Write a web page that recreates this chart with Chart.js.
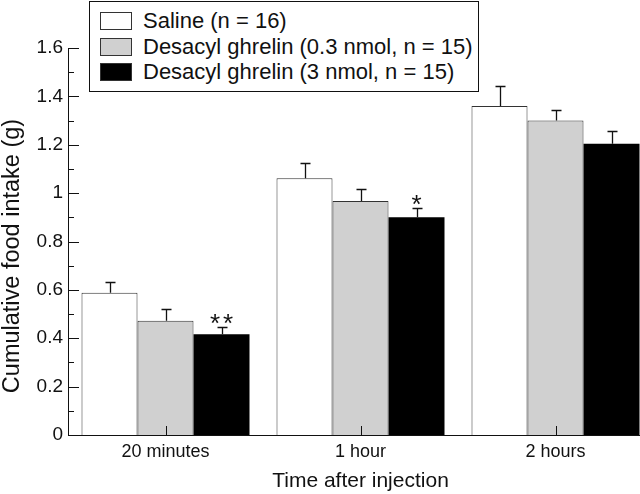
<!DOCTYPE html>
<html>
<head>
<meta charset="utf-8">
<script src="https://cdn.jsdelivr.net/npm/chart.js@4"></script>
<style>
  html, body { margin: 0; padding: 0; background: #fff; overflow: hidden; }
  #wrap { position: relative; width: 660px; height: 494px; }
  #legend {
    position: absolute; left: 89px; top: 1px; width: 388px; height: 89px;
    border: 1px solid #111; background: #fff;
    font-family: "Liberation Sans", Arial, sans-serif; font-size: 22px; color: #111;
  }
  .item { position: absolute; left: 10px; height: 20px; display: flex; align-items: center; }
  .swatch { width: 32px; height: 18px; border: 1px solid #333; margin-right: 11px; box-sizing: border-box; }
</style>
</head>
<body>
<div id="wrap">
  <canvas id="chart" width="660" height="494"></canvas>
  <div id="legend"></div>
</div>
<script>
// Data
const categories = ['20 minutes', '1 hour', '2 hours'];
const seriesNames = ['Saline (n = 16)', 'Desacyl ghrelin (0.3 nmol, n = 15)', 'Desacyl ghrelin (3 nmol, n = 15)'];
const saline = [0.588, 1.061, 1.36];
const lowDose = [0.472, 0.967, 1.30];
const highDose = [0.417, 0.90, 1.204];
const salineErr = [0.043, 0.063, 0.082];
const lowDoseErr = [0.047, 0.051, 0.044];
const highDoseErr = [0.028, 0.038, 0.052];
const highDoseSig = ['**', '*', ''];

const fillColors = ['#ffffff', '#d0d0d0', '#000000'];
const errors = [salineErr, lowDoseErr, highDoseErr];
const marks = [[], [], highDoseSig];
const FONT = '"Liberation Sans", Arial, sans-serif';
const INK = '#111';

// HTML legend
const legendEl = document.getElementById('legend');
seriesNames.forEach((name, i) => {
  const row = document.createElement('div');
  row.className = 'item';
  row.style.top = (9 + i * 25.5) + 'px';
  const sw = document.createElement('span');
  sw.className = 'swatch';
  sw.style.background = fillColors[i];
  const label = document.createElement('span');
  label.textContent = name;
  row.appendChild(sw);
  row.appendChild(label);
  legendEl.appendChild(row);
});

// Ticks (inward), error bars, significance marks and y title
const extras = {
  id: 'extras',
  afterDatasetsDraw(chart) {
    const ctx = chart.ctx;
    const y = chart.scales.y;
    const x = chart.scales.x;
    ctx.save();
    ctx.strokeStyle = INK;
    ctx.lineWidth = 1;

    // y ticks pointing right
    y.ticks.forEach(t => {
      const v = Math.round(t.value * 10);
      const py = Math.round(y.getPixelForValue(t.value)) + 0.5;
      const len = v % 2 === 0 ? 11 : 6;
      ctx.beginPath();
      ctx.moveTo(y.right, py);
      ctx.lineTo(y.right + len, py);
      ctx.stroke();
    });

    // x ticks pointing up at category centres
    categories.forEach((c, i) => {
      const px = Math.round(x.getPixelForValue(i)) + 0.5;
      ctx.beginPath();
      ctx.moveTo(px, x.top);
      ctx.lineTo(px, x.top - 9);
      ctx.stroke();
    });

    // error bars
    ctx.lineWidth = 1.3;
    chart.data.datasets.forEach((ds, di) => {
      const meta = chart.getDatasetMeta(di);
      meta.data.forEach((bar, i) => {
        const top = y.getPixelForValue(ds.data[i]);
        const errTop = y.getPixelForValue(ds.data[i] + errors[di][i]);
        const cx = Math.round(bar.x) + 0.5;
        ctx.beginPath();
        ctx.moveTo(cx, top);
        ctx.lineTo(cx, errTop);
        ctx.moveTo(cx - 5, Math.round(errTop) + 0.5);
        ctx.lineTo(cx + 5, Math.round(errTop) + 0.5);
        ctx.stroke();

        const m = marks[di][i];
        if (m) {
          ctx.fillStyle = INK;
          ctx.font = '26px ' + FONT;
          ctx.textAlign = 'center';
          ctx.textBaseline = 'alphabetic';
          const gap = 13;
          for (let k = 0; k < m.length; k++) {
            const sx = bar.x + (k - (m.length - 1) / 2) * gap;
            ctx.fillText(m[k], sx, errTop + 5);
          }
        }
      });
    });

    // y axis title
    ctx.fillStyle = INK;
    ctx.font = '23.5px ' + FONT;
    ctx.textAlign = 'center';
    ctx.textBaseline = 'middle';
    ctx.translate(13, 256);
    ctx.rotate(-Math.PI / 2);
    ctx.fillText('Cumulative food intake (g)', 0, 0);
    ctx.restore();
  }
};

const seriesData = [saline, lowDose, highDose];

new Chart(document.getElementById('chart'), {
  type: 'bar',
  data: {
    labels: categories,
    datasets: seriesNames.map((name, i) => ({
      label: name,
      data: seriesData[i],
      backgroundColor: fillColors[i],
      borderColor: '#333',
      borderWidth: i === 2 ? 0 : 1,
      barPercentage: 1,
      categoryPercentage: 168 / 195
    }))
  },
  options: {
    responsive: false,
    animation: false,
    layout: { padding: { top: 48, right: 7, left: 0, bottom: 0 } },
    plugins: {
      legend: { display: false },
      tooltip: { enabled: false }
    },
    scales: {
      x: {
        grid: { display: false, drawTicks: false },
        border: { display: true, color: INK, width: 1 },
        ticks: { color: INK, padding: 6, font: { family: FONT, size: 18 } },
        title: {
          display: true,
          text: 'Time after injection',
          color: INK,
          padding: { top: 0, bottom: 0 },
          font: { family: FONT, size: 21 }
        },
        afterFit: s => { s.height = 59; }
      },
      y: {
        min: 0,
        max: 1.6,
        grid: { display: false, drawTicks: false },
        border: { display: true, color: INK, width: 1 },
        ticks: {
          stepSize: 0.1,
          autoSkip: false,
          padding: 5,
          color: INK,
          font: { family: FONT, size: 19 },
          callback: v => {
            const r = Math.round(v * 10);
            return r % 2 === 0 ? String(r / 10) : '';
          }
        },
        afterFit: s => { s.width = 68; }
      }
    }
  },
  plugins: [extras]
});
</script>
</body>
</html>
